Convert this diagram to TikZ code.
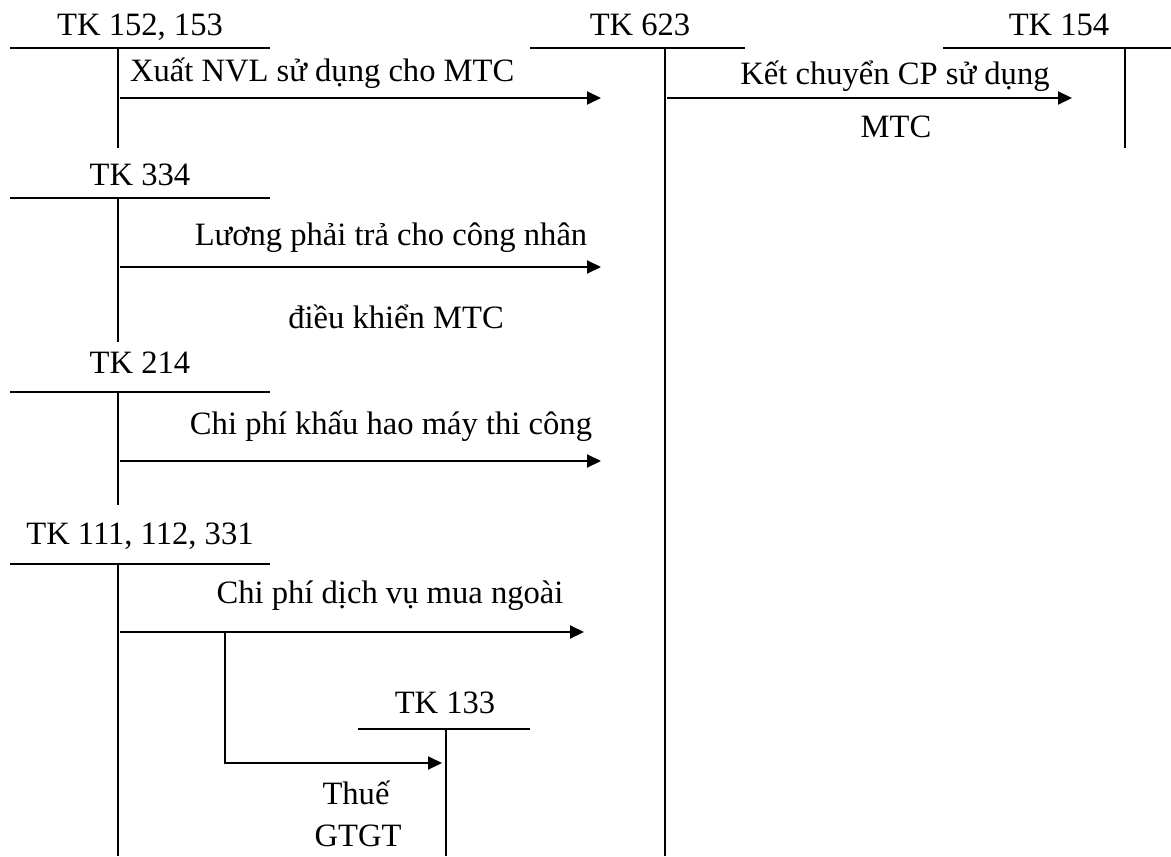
\documentclass[tikz,border=0pt]{standalone}
\usepackage{fontspec}
\setmainfont{Liberation Serif}
\usetikzlibrary{arrows.meta,positioning}

\begin{document}
\begin{tikzpicture}[x=0.5pt,y=-0.5pt,>={Triangle[length=7pt,width=6.5pt]},line width=1pt,
    acc/.style={font=\fontsize{16.3}{19}\selectfont,inner sep=0pt,anchor=base},
    note/.style={font=\fontsize{16.3}{19}\selectfont,inner sep=0pt,anchor=base}]
  \useasboundingbox (0,0) rectangle (1171,856);
  % left T accounts
  \foreach \id/\ty/\by/\lb/\lab in {k152/48/148/36/{TK 152, 153},
      k334/198/342/185/{TK 334}, k214/392/505/373/{TK 214},
      k111/564/856/544/{TK 111, 112, 331}} {
    \node[acc] (\id) at (140,\lb) {\lab};
    \coordinate (\id l) at (10,\ty);
    \coordinate (\id r) at (270,\ty);
    \coordinate (\id t) at (118,\ty);
    \coordinate (\id b) at (118,\by);
    \draw (\id l) -- (\id r);
    \draw (\id t) -- (\id b);
  }
  % TK 623
  \node[acc] (k623) at (640,36) {TK 623};
  \coordinate (k623l) at (530,48);
  \coordinate (k623r) at (745,48);
  \coordinate (k623t) at (665,48);
  \coordinate (k623b) at (665,856);
  \draw (k623l) -- (k623r);
  \draw (k623t) -- (k623b);
  % TK 154
  \node[acc] (k154) at (1059,36) {TK 154};
  \coordinate (k154l) at (943,48);
  \coordinate (k154r) at (1171,48);
  \coordinate (k154t) at (1125,48);
  \coordinate (k154b) at (1125,148);
  \draw (k154l) -- (k154r);
  \draw (k154t) -- (k154b);
  % TK 133
  \node[acc] (k133) at (445,713) {TK 133};
  \coordinate (k133l) at (358,729);
  \coordinate (k133r) at (530,729);
  \coordinate (k133t) at (446,729);
  \coordinate (k133b) at (446,856);
  \draw (k133l) -- (k133r);
  \draw (k133t) -- (k133b);

  % arrows
  \coordinate (s1) at (120,98);   \coordinate (e1) at (601,98);
  \coordinate (s2) at (120,267);  \coordinate (e2) at (601,267);
  \coordinate (s3) at (120,461);  \coordinate (e3) at (601,461);
  \coordinate (s4) at (120,632);  \coordinate (e4) at (584,632);
  \coordinate (s5) at (667,98);   \coordinate (e5) at (1072,98);
  \coordinate (br) at (225,632);  \coordinate (bk) at (225,763);
  \coordinate (e6) at (442,763);
  \draw[->] (s1) -- (e1);
  \draw[->] (s2) -- (e2);
  \draw[->] (s3) -- (e3);
  \draw[->] (s4) -- (e4);
  \draw[->] (s5) -- (e5);
  \draw[->] (br) -- (bk) -- (e6);

  % texts on the arrows
  \node[note,anchor=base west] (t1) at (129,82) {Xuất NVL sử dụng cho MTC};
  \node[note] (t2) at (391,245) {Lương phải trả cho công nhân};
  \node[note] (t3) at (396,328) {điều khiển MTC};
  \node[note] (t4) at (391,434) {Chi phí khấu hao máy thi công};
  \node[note] (t5) at (390,603) {Chi phí dịch vụ mua ngoài};
  \node[note] (t6) at (895,84) {Kết chuyển CP sử dụng};
  \node[note] (t7) at (896,137) {MTC};
  \node[note] (t8) at (356,804) {Thuế};
  \node[note] (t9) at (358,846) {GTGT};
\end{tikzpicture}
\end{document}
